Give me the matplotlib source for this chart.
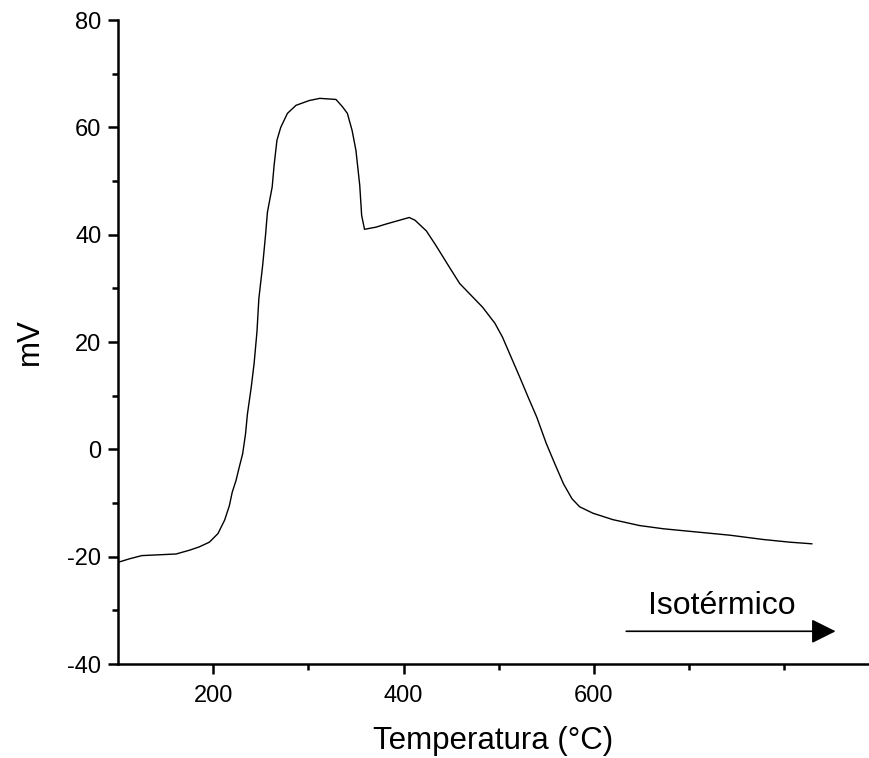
import numpy as np
import matplotlib.pyplot as plt
from matplotlib.ticker import MultipleLocator, FixedLocator

plt.rcParams['font.family'] = ['Liberation Sans', 'DejaVu Sans']
plt.rcParams['axes.unicode_minus'] = False

# 读图得到的数据点
temp = [101, 112, 125, 161, 175, 185, 196, 205, 212, 217,
        220, 224, 227, 231, 234, 236, 240, 243, 246, 248,
        252, 255, 257, 262, 264, 267, 271, 278, 287, 301,
        312, 329, 336, 341, 346, 350, 354, 356, 359, 371,
        382, 396, 406, 412, 424, 434, 448, 459, 471, 483,
        496, 504, 513, 522, 531, 540, 550, 559, 568, 577,
        585, 599, 620, 648, 673, 708, 743, 778, 806, 829]
mv = [-21.0, -20.4, -19.8, -19.5, -18.8, -18.2, -17.3, -15.7, -13.2, -10.5,
      -8.0, -5.8, -3.6, -0.8, 2.9, 6.6, 11.6, 16.0, 21.9, 28.1,
      34.3, 39.9, 44.2, 48.9, 52.9, 57.6, 60.0, 62.6, 64.1, 65.0,
      65.4, 65.2, 63.8, 62.6, 59.4, 55.7, 49.2, 43.6, 41.0, 41.4,
      42.0, 42.7, 43.2, 42.7, 40.7, 38.0, 34.0, 30.9, 28.7, 26.5,
      23.5, 20.9, 17.2, 13.5, 9.7, 6.0, 1.1, -2.7, -6.4, -9.2,
      -10.7, -11.9, -13.1, -14.2, -14.8, -15.4, -16.0, -16.8, -17.3, -17.6]

x_major = [200, 400, 600]
x_minor = [300, 500, 700, 800]

fig = plt.figure(figsize=(8.69, 7.58), dpi=100)
ax = fig.add_axes([0.1358, 0.124, 0.863, 0.8496])
ax.spines['top'].set_visible(False)
ax.spines['right'].set_visible(False)
for s in ['left', 'bottom']:
    ax.spines[s].set_linewidth(1.8)

ax.plot(temp, mv, color='k', lw=1.0)

ax.set_xlim(100, 888)
ax.set_ylim(-40, 80)
ax.xaxis.set_major_locator(FixedLocator(x_major))
ax.xaxis.set_minor_locator(FixedLocator(x_minor))
ax.yaxis.set_major_locator(MultipleLocator(20))
ax.yaxis.set_minor_locator(MultipleLocator(10))
ax.tick_params(which='major', length=7, width=1.8, labelsize=17, pad=5)
ax.tick_params(axis='x', which='major', pad=8)
ax.tick_params(which='minor', length=4.3, width=1.8)

ax.set_xlabel('Temperatura (°C)', fontsize=22.5, labelpad=14)
ax.set_ylabel('mV', fontsize=22.5, labelpad=16)

# 等温段箭头
ax.annotate('', xy=(854, -33.9), xytext=(634, -33.9),
            arrowprops=dict(arrowstyle='-|>,head_length=1.0,head_width=0.5',
                            mutation_scale=15, lw=1.2, color='k',
                            shrinkA=0, shrinkB=0))
ax.text(734, -29.2, 'Isotérmico', fontsize=23, ha='center', va='center')

plt.savefig('out.png', dpi=100)
